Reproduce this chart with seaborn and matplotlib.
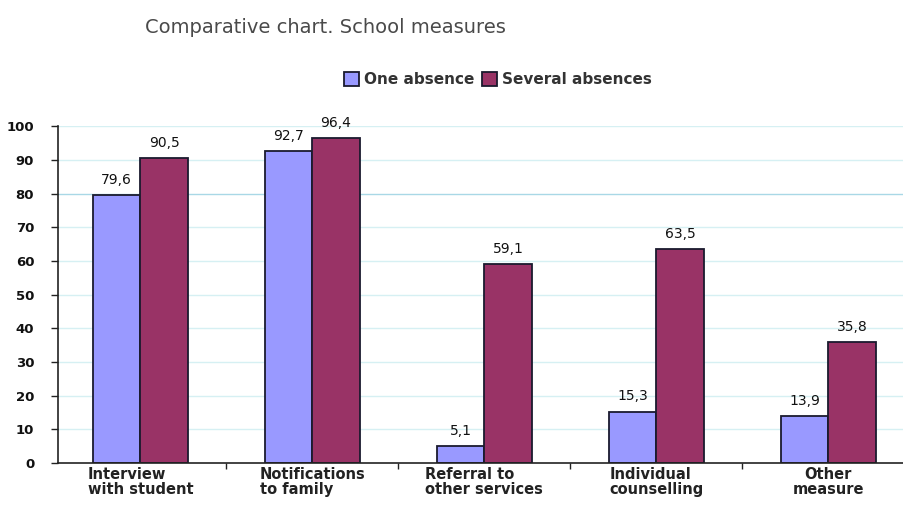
import matplotlib
matplotlib.use("Agg")
import matplotlib.pyplot as plt
import seaborn as sns
import pandas as pd
import numpy as np

categories = ["Interview\nwith student", "Notifications\nto family", "Referral to\nother services",
              "Individual\ncounselling", "Other\nmeasure"]
one_absence = [79.6, 92.7, 5.1, 15.3, 13.9]
several_absences = [90.5, 96.4, 59.1, 63.5, 35.8]
series_names = ["One absence", "Several absences"]
yticks = [0, 10, 20, 30, 40, 50, 60, 70, 80, 90, 100]

df = pd.DataFrame({
    "category": categories * 2,
    "series": [series_names[0]] * len(categories) + [series_names[1]] * len(categories),
    "value": one_absence + several_absences,
})

sns.set_theme(style="white")
plt.rcParams['font.family'] = ['DejaVu Sans']

fig = plt.figure(figsize=(9.04, 5.05), dpi=100)
ax = fig.add_axes([0.064, 0.083, 0.936, 0.667])

palette = {"One absence": "#9999FF", "Several absences": "#993366"}
sns.barplot(data=df, x="category", y="value", hue="series", order=categories,
            hue_order=series_names, palette=palette, width=0.55, gap=0,
            edgecolor="#1a1a2e", linewidth=1.3, saturation=1, ax=ax, legend=True)

ax.set_ylim(0, 100)
ax.set_xlim(-0.48, 4.44)
ax.set_yticks(yticks)
ax.set_yticklabels([str(t) for t in yticks], fontsize=9.5, color="#111111", fontweight="bold")
for t in yticks[1:]:
    ax.axhline(t, color="#a9d8e6" if t == 80 else "#d6f0f3", lw=1.0, zorder=0)

ax.set_xticks(range(len(categories)))
ax.set_xticklabels(categories, fontsize=10.5, color="#222222", linespacing=1.0,
                   multialignment="left", fontweight="bold")
ax.get_xticklabels()[-1].set_multialignment("center")
ax.tick_params(axis="x", which="major", length=0, pad=3)
ax.set_xticks(np.arange(0.5, len(categories) - 0.5, 1), minor=True)
ax.tick_params(axis="x", which="minor", length=4, width=1, color="#222222", direction="out", bottom=True)
ax.tick_params(axis="y", length=5, width=1, color="#222222", direction="out", left=True, pad=12)

for side in ["top", "right"]:
    ax.spines[side].set_visible(False)
for side in ["left", "bottom"]:
    ax.spines[side].set_color("#222222")
    ax.spines[side].set_linewidth(1.2)
ax.set_xlabel("")
ax.set_ylabel("")

for cont, vals in zip(ax.containers, [one_absence, several_absences]):
    ax.bar_label(cont, labels=[f"{v:.1f}".replace(".", ",") for v in vals],
                 padding=6, fontsize=10, color="#111111")

leg = ax.legend(loc="center", bbox_to_anchor=(0.52, 1.138), ncol=2,
                frameon=False, fontsize=11, handlelength=1.0, handleheight=1.0,
                handletextpad=0.3, columnspacing=0.5)
for h in leg.legend_handles:
    h.set_edgecolor("#1a1a2e")
    h.set_linewidth(1.3)
for t in leg.get_texts():
    t.set_color("#333333")
    t.set_fontweight("bold")

fig.text(0.16, 0.945, "Comparative chart. School measures", fontsize=14,
         color="#4a4a4a", ha="left", va="center")

fig.savefig("out.png", dpi=100, facecolor="white")
